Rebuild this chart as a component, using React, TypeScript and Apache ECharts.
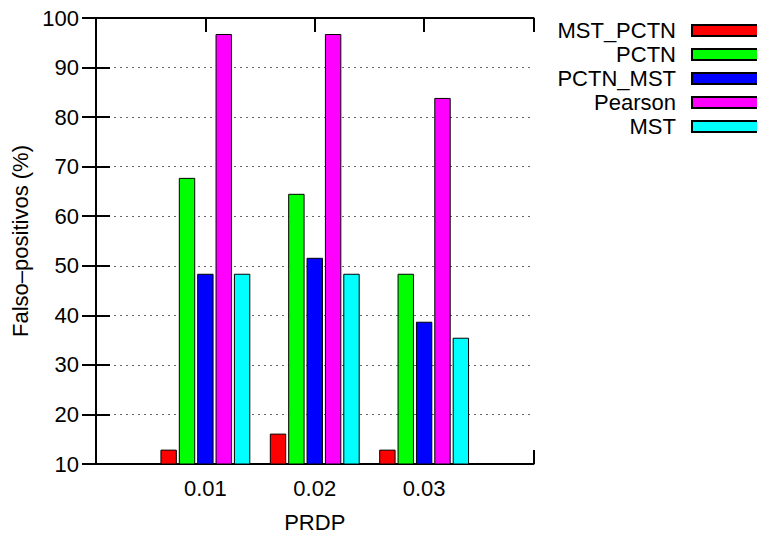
import React, { useEffect, useRef } from "react";
import * as echarts from "echarts";

const categories = ["0.01", "0.02", "0.03"];
const seriesNames = ["MST_PCTN", "PCTN", "PCTN_MST", "Pearson", "MST"];
const mstPctn = [12.9, 16.13, 12.9];
const pctn = [67.74, 64.52, 48.39];
const pctnMst = [48.39, 51.61, 38.71];
const pearson = [96.77, 96.77, 83.87];
const mst = [48.39, 48.39, 35.48];
const yTicks = { min: 10, max: 100, step: 10 };
const colors = ["#ff0000", "#00ff00", "#0000ff", "#ff00ff", "#00ffff"];

const FONT = "Liberation Sans, Arial, Helvetica, sans-serif";
const FS = 22;

export default function App() {
  const ref = useRef<HTMLDivElement>(null);
  useEffect(() => {
    if (!ref.current) return;
    const chart = echarts.init(ref.current, undefined, { renderer: "svg" });
    const allSeries = [mstPctn, pctn, pctnMst, pearson, mst];
    const axisLine = { show: true, lineStyle: { color: "#000", width: 2 } };
    const tick = { show: true, inside: true, length: 14, lineStyle: { color: "#000", width: 2 } };
    const xLabel = (v: number) => categories[v - 1] ?? "";
    chart.setOption({
      animation: false,
      textStyle: { fontFamily: FONT },
      grid: { left: 96, right: 231.5, top: 18, bottom: 70.3, containLabel: false },
      legend: {
        orient: "vertical",
        align: "right",
        right: -4,
        top: 18.5,
        padding: 0,
        itemGap: 0,
        itemWidth: 76,
        itemHeight: 11,
        icon: "rect",
        selectedMode: false,
        textStyle: { fontFamily: FONT, fontSize: FS, color: "#000", lineHeight: 24, padding: [0, 11, 0, 0] },
        data: seriesNames,
      },
      xAxis: [
        {
          type: "value",
          position: "bottom",
          min: 0,
          max: categories.length + 1,
          interval: 1,
          axisLine,
          axisTick: tick,
          splitLine: { show: false },
          axisLabel: { formatter: xLabel, color: "#000", fontSize: FS, fontFamily: FONT, margin: 13 },
          name: "PRDP",
          nameLocation: "middle",
          nameGap: 47,
          nameTextStyle: { color: "#000", fontSize: FS, fontFamily: FONT },
        },
        {
          type: "value",
          position: "top",
          min: 0,
          max: categories.length + 1,
          interval: 1,
          axisLine,
          axisTick: tick,
          splitLine: { show: false },
          axisLabel: { show: false },
        },
      ],
      yAxis: [
        {
          type: "value",
          position: "left",
          min: yTicks.min,
          max: yTicks.max,
          interval: yTicks.step,
          axisLine,
          axisTick: tick,
          splitLine: { show: true, lineStyle: { color: "#666", width: 1, type: [2, 4] } },
          axisLabel: { color: "#000", fontSize: FS, fontFamily: FONT, margin: 17 },
          name: "Falso–positivos (%)",
          nameLocation: "middle",
          nameRotate: 90,
          nameGap: 60,
          nameTextStyle: { color: "#000", fontSize: FS, fontFamily: FONT },
        },
        {
          type: "value",
          position: "right",
          min: yTicks.min,
          max: yTicks.max,
          interval: yTicks.step,
          axisLine,
          axisTick: tick,
          splitLine: { show: false },
          axisLabel: { show: false },
        },
      ],
      series: allSeries.map((vals, i) => ({
        name: seriesNames[i],
        type: "bar",
        xAxisIndex: 0,
        yAxisIndex: 0,
        barWidth: 16.4,
        barGap: "12%",
        itemStyle: { color: colors[i], borderColor: "#000", borderWidth: 1 },
        data: vals.map((v, j) => [j + 1, v]),
      })),
    });
    return () => chart.dispose();
  }, []);
  return <div ref={ref} style={{ width: 765, height: 538, margin: -8 }} />;
}
